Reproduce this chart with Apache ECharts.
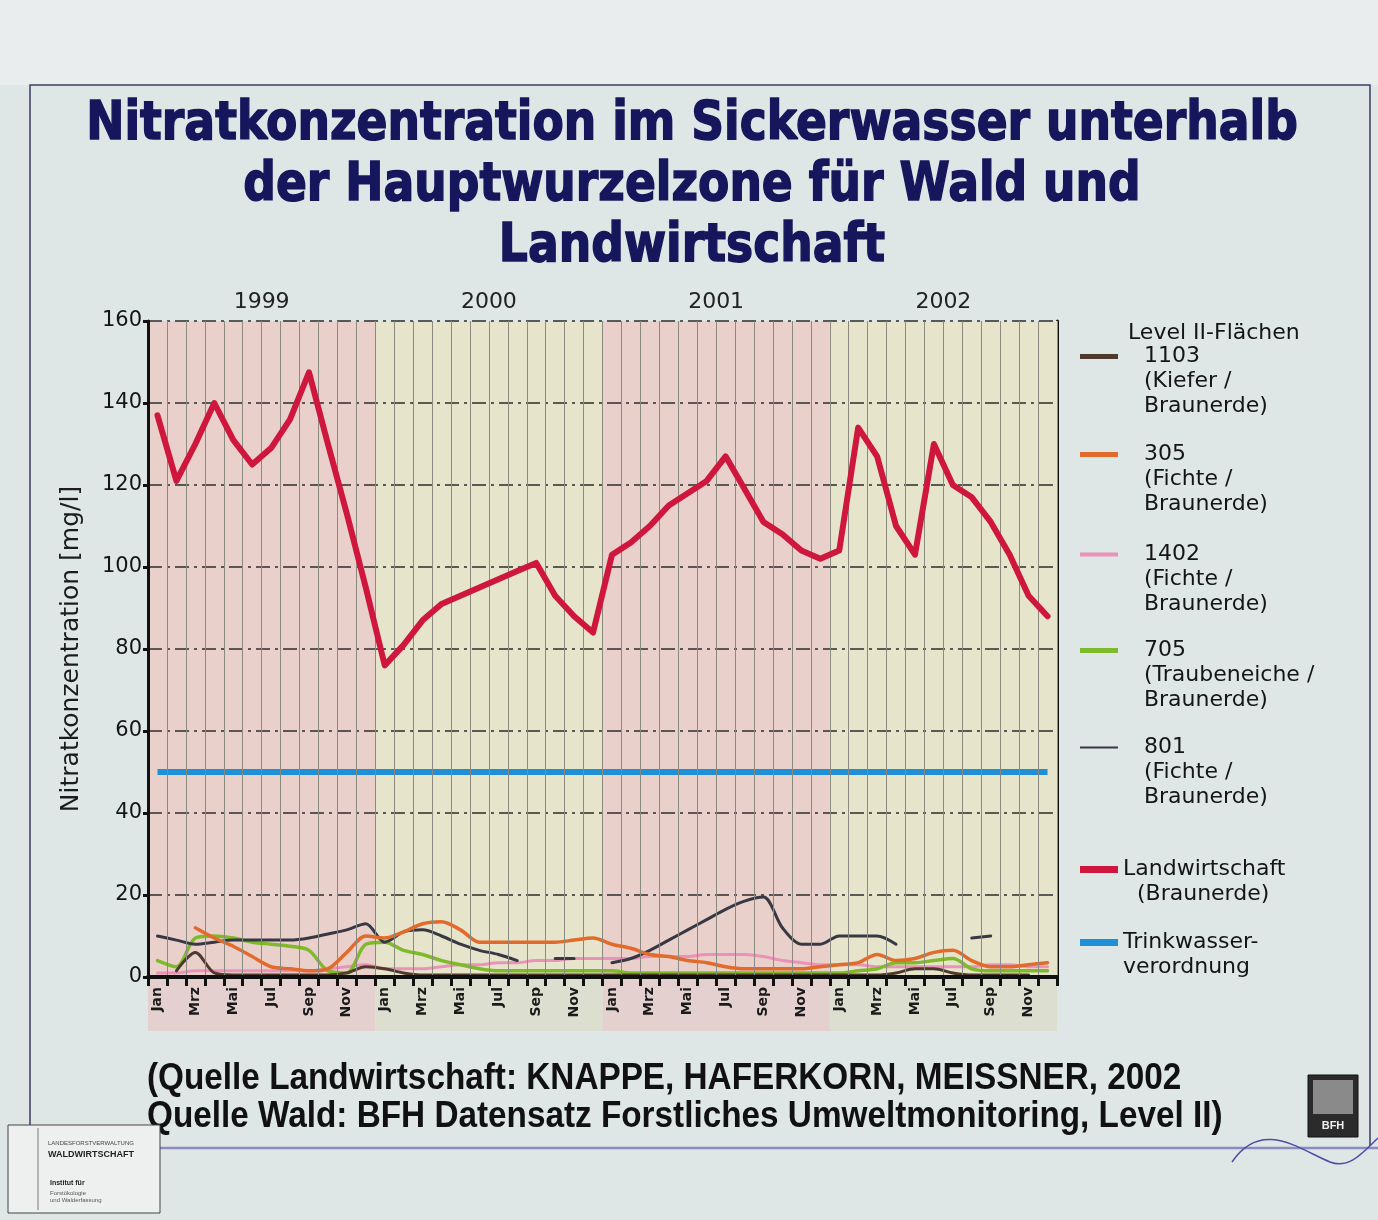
<!DOCTYPE html>
<html>
<head>
<meta charset="utf-8">
<title>Nitratkonzentration im Sickerwasser</title>
<script src="https://cdn.jsdelivr.net/npm/echarts@6/dist/echarts.min.js"></script>
<style>
  html, body { margin: 0; padding: 0; background: #dfe6e6; }
  #chart { width: 1378px; height: 1220px; }
</style>
</head>
<body>
<div id="chart"></div>
<script>
// -------------------- Daten --------------------

const years = ['1999', '2000', '2001', '2002']
const monthNames = ['Jan', 'Feb', 'Mrz', 'Apr', 'Mai', 'Jun', 'Jul', 'Aug', 'Sep', 'Okt', 'Nov', 'Dez']
const yTicks = [0, 20, 40, 60, 80, 100, 120, 140, 160]

// Landwirtschaft (Braunerde)
const landwirtschaft = [
  137, 121, 130, 140, 131, 125, 129, 136, 147.5, 130, 113, 95,
  76, 81, 87, 91, 93, 95, 97, 99, 101, 93, 88, 84,
  103, 106, 110, 115, 118, 121, 127, 119, 111, 108, 104, 102,
  104, 134, 127, 110, 103, 130, 120, 117, 111, 103, 93, 88
]

// Trinkwasserverordnung (Grenzwert)
const trinkwasser = [
  50, 50, 50, 50, 50, 50, 50, 50, 50, 50, 50, 50,
  50, 50, 50, 50, 50, 50, 50, 50, 50, 50, 50, 50,
  50, 50, 50, 50, 50, 50, 50, 50, 50, 50, 50, 50,
  50, 50, 50, 50, 50, 50, 50, 50, 50, 50, 50, 50
]

// Level II-Flächen
const flaeche1103 = [
  null, 1.5, 6, 1, 0.5, 0.5, 0.5, 0.5, 0.5, 0.5, 1, 2.5,
  2, 1, 0.5, 0.5, 0.5, 0.5, 0.5, 0.5, 0.5, 0.5, 0.5, 0.5,
  0.5, 0.5, 0.5, 0.5, 0.5, 0.5, 0.5, 0.5, 0.5, 0.5, 0.5, 0.5,
  0.5, 0.5, 0.5, 1, 2, 2, 1, 0.5, 0.5, 0.5, 0.5, null
]
const flaeche305 = [
  null, null, 12, 9.5, 7.5, 5, 2.5, 2, 1.5, 2, 6, 10,
  9.5, 11, 13, 13.5, 11.5, 8.5, 8.5, 8.5, 8.5, 8.5, 9, 9.5,
  8, 7, 5.5, 5, 4, 3.5, 2.5, 2, 2, 2, 2, 2.5,
  3, 3.5, 5.5, 4, 4.5, 6, 6.5, 4, 2.5, 2.5, 3, 3.5
]
const flaeche1402 = [
  1, 1, 1.5, 1.5, 1.5, 1.5, 1.5, 1.5, 1.5, 2, 2.5, 3,
  2, 2, 2, 2.5, 3, 3, 3.5, 3.5, 4, 4, 4.5, 4.5,
  4.5, 4.5, 5, 5, 5, 5.5, 5.5, 5.5, 5, 4, 3.5, 3,
  3, 3, 2.5, 2.5, 2.5, 2.5, 2.5, 2.5, 3, 3, 2.5, 2.5
]
const flaeche705 = [
  4, 2.5, 9.5, 10, 9.5, 8.5, 8, 7.5, 6.5, 1.5, 1, 8,
  8.5, 6.5, 5.5, 4, 3, 2, 1.5, 1.5, 1.5, 1.5, 1.5, 1.5,
  1.5, 1, 1, 1, 1, 1, 1, 1, 1, 1, 1, 1,
  1, 1.5, 2, 3.5, 3.5, 4, 4.5, 2, 1.5, 1.5, 1.5, 1.5
]
const flaeche801 = [
  10, 9, 8, 8.5, 9, 9, 9, 9, 9.5, 10.5, 11.5, 13,
  8.5, 11, 11.5, 10, 8, 6.5, 5.5, 4, null, 4.5, 4.5, null,
  3.5, 4.5, 6.5, 9, 11.5, 14, 16.5, 18.5, 19.5, 12, 8, 8,
  10, 10, 10, 8, null, null, null, 9.5, 10, null, null, null
]

// Kategorien: Monat + Jahr
const months = []
years.forEach(y => monthNames.forEach(m => months.push(m + ' ' + y)))

// -------------------- Stil --------------------

const C = {
  red: '#cf163d',
  blue: '#1f8fd6',
  c1103: '#4d3a2c',
  c305: '#e26b2c',
  c1402: '#eb92b8',
  c705: '#7fba2a',
  c801: '#383844',
  pink: '#e9d0cb',
  yellow: '#e7e4cc',
  pinkLow: '#e4d1cf',
  yellowLow: '#dcdfd0'
}

const FONT = 'DejaVu Sans'

// Jahresbänder (als Monatsindex 0..48)
function yearBands(colA, colB) {
  return years.map((y, i) => [
    { xAxis: i * 12, itemStyle: { color: i % 2 === 0 ? colA : colB } },
    { xAxis: (i + 1) * 12 }
  ])
}

function lowSeries(name, data, color, width) {
  return {
    name,
    type: 'line',
    xAxisIndex: 0,
    yAxisIndex: 0,
    data,
    color,
    symbol: 'none',
    smooth: 0.3,
    connectNulls: false,
    lineStyle: { color, width, cap: 'round', join: 'round' },
    z: 3
  }
}

// Legende: jede Position einzeln, erste Zeile mittig zum Farbbalken
function legendItem(name, top, h, indent) {
  return {
    data: [name],
    left: 1080,
    top,
    orient: 'vertical',
    padding: 0,
    icon: 'rect',
    itemWidth: 38,
    itemHeight: h,
    selectedMode: false,
    formatter: n => {
      const lines = n.split('\n')
      return '\n'.repeat(lines.length - 1) + lines.map((l, i) => (i === 0 ? indent[0] : indent[1]) + l).join('\n')
    },
    textStyle: { fontFamily: FONT, fontSize: 22, lineHeight: 25, color: '#151515' }
  }
}

const N1103 = '1103\n(Kiefer /\nBraunerde)'
const N305 = '305\n(Fichte /\nBraunerde)'
const N1402 = '1402\n(Fichte /\nBraunerde)'
const N705 = '705\n(Traubeneiche /\nBraunerde)'
const N801 = '801\n(Fichte /\nBraunerde)'
const NLW = 'Landwirtschaft\n(Braunerde)'
const NTW = 'Trinkwasser-\nverordnung'

const chart = echarts.init(document.getElementById('chart'))

const option = {
  backgroundColor: '#dfe6e6',
  animation: false,
  grid: [
    { left: 148, top: 321, width: 909, height: 656 },
    { left: 148, top: 979, width: 909, height: 52 }
  ],
  xAxis: [
    {
      type: 'category',
      gridIndex: 0,
      position: 'bottom',
      data: months,
      boundaryGap: true,
      axisLine: { lineStyle: { color: '#111', width: 4 } },
      axisTick: { show: true, interval: 0, length: 9, lineStyle: { color: '#111', width: 3 } },
      axisLabel: {
        interval: 1,
        rotate: 90,
        margin: 10,
        fontFamily: FONT,
        fontSize: 14,
        fontWeight: 'bold',
        color: '#1a1a1a',
        formatter: v => v.split(' ')[0]
      },
      splitLine: { show: true, interval: 0, lineStyle: { color: '#8a8a80', width: 1 } },
      z: 5
    },
    {
      type: 'category',
      gridIndex: 0,
      position: 'top',
      data: years,
      boundaryGap: true,
      axisLine: { lineStyle: { color: '#111', width: 3 } },
      axisTick: { show: false },
      axisLabel: { fontFamily: FONT, fontSize: 22, color: '#222', margin: 8 },
      splitLine: { show: false }
    },
    { type: 'value', gridIndex: 0, min: 0, max: 48, show: false },
    { type: 'value', gridIndex: 1, min: 0, max: 48, show: false }
  ],
  yAxis: [
    {
      type: 'value',
      gridIndex: 0,
      min: yTicks[0],
      max: yTicks[yTicks.length - 1],
      interval: 20,
      name: 'Nitratkonzentration [mg/l]',
      nameLocation: 'middle',
      nameRotate: 90,
      nameGap: 64,
      nameTextStyle: { fontFamily: FONT, fontSize: 25, color: '#1c1c1c' },
      axisLine: { show: true, lineStyle: { color: '#111', width: 3 } },
      axisTick: { show: true, length: 5, lineStyle: { color: '#111', width: 3 } },
      axisLabel: { fontFamily: FONT, fontSize: 21, color: '#151515', margin: 6 },
      splitLine: { show: true, lineStyle: { color: '#2c2c2c', width: 1.5, type: [14, 5, 3, 5] } },
      z: 5
    },
    {
      type: 'value',
      gridIndex: 0,
      position: 'right',
      min: 0,
      max: 160,
      axisLine: { show: true, lineStyle: { color: '#111', width: 3 } },
      axisTick: { show: false },
      axisLabel: { show: false },
      splitLine: { show: false }
    },
    { type: 'value', gridIndex: 1, min: 0, max: 1, show: false }
  ],
  legend: [
    legendItem(N1103, 294, 5, ['   ', '   ']),
    legendItem(N305, 392, 5, ['   ', '   ']),
    legendItem(N1402, 492, 4, ['   ', '   ']),
    legendItem(N705, 588, 5, ['   ', '   ']),
    legendItem(N801, 685, 2, ['   ', '   ']),
    legendItem(NLW, 832, 7, ['', '  ']),
    legendItem(NTW, 905, 7, ['', ''])
  ],
  graphic: [
    // obere hellere Fläche und Rahmen
    { type: 'rect', shape: { x: 0, y: 0, width: 1378, height: 85 }, style: { fill: '#e9eded' }, z: -10 },
    { type: 'polyline', shape: { points: [[30, 1128], [30, 85], [1370, 85], [1370, 1146]] }, style: { stroke: '#3c3c62', lineWidth: 1.5, fill: null } },
    { type: 'line', shape: { x1: 160, y1: 1148, x2: 1378, y2: 1148 }, style: { stroke: '#8c8cc0', lineWidth: 2.5 } },
    // Titel
    {
      type: 'group',
      children: [
        'Nitratkonzentration im Sickerwasser unterhalb',
        'der Hauptwurzelzone für Wald und',
        'Landwirtschaft'
      ].map((t, i) => ({
        type: 'text',
        x: 692,
        y: 125 + i * 61,
        scaleX: 0.845,
        style: {
          text: t,
          align: 'center',
          verticalAlign: 'middle',
          font: 'bold 54px "DejaVu Sans"',
          fill: '#16165c',
          stroke: '#16165c',
          lineWidth: 1.6
        }
      }))
    },
    // Legendentitel
    {
      type: 'text',
      x: 1128,
      y: 333,
      style: { text: 'Level II-Flächen', verticalAlign: 'middle', font: '22px "DejaVu Sans"', fill: '#151515' }
    },
    // Quellenangabe
    {
      type: 'group',
      children: [
        '(Quelle Landwirtschaft: KNAPPE, HAFERKORN, MEISSNER, 2002',
        'Quelle Wald: BFH Datensatz Forstliches Umweltmonitoring, Level II)'
      ].map((t, i) => ({
        type: 'text',
        x: 147,
        y: 1079 + i * 38,
        scaleX: 0.9,
        style: { text: t, verticalAlign: 'middle', font: 'bold 37px "Liberation Sans"', fill: '#111' }
      }))
    },
    // Logo links
    { type: 'rect', shape: { x: 8, y: 1125, width: 152, height: 88 }, style: { fill: '#eef0ef', stroke: '#444', lineWidth: 1 } },
    { type: 'line', shape: { x1: 38, y1: 1128, x2: 38, y2: 1210 }, style: { stroke: '#777', lineWidth: 1 } },
    { type: 'text', x: 48, y: 1140, style: { text: 'LANDESFORSTVERWALTUNG', font: '6px "Liberation Sans"', fill: '#444' } },
    { type: 'text', x: 48, y: 1150, style: { text: 'WALDWIRTSCHAFT', font: 'bold 9px "Liberation Sans"', fill: '#222' } },
    { type: 'text', x: 50, y: 1180, style: { text: 'Institut für', font: 'bold 7px "Liberation Sans"', fill: '#222' } },
    { type: 'text', x: 50, y: 1190, style: { text: 'Forstökologie\nund Walderfassung', font: '6px "Liberation Sans"', fill: '#555', lineHeight: 7 } },
    // Logo rechts
    { type: 'rect', shape: { x: 1308, y: 1075, width: 50, height: 62 }, style: { fill: '#2b2b2b', stroke: '#111' } },
    { type: 'rect', shape: { x: 1313, y: 1080, width: 40, height: 34 }, style: { fill: '#8a8a8a' } },
    { type: 'text', x: 1333, y: 1126, style: { text: 'BFH', align: 'center', verticalAlign: 'middle', font: 'bold 11px "Liberation Sans"', fill: '#eee' } },
    // Welle rechts unten
    {
      type: 'bezierCurve',
      shape: { x1: 1232, y1: 1162, cpx1: 1262, cpy1: 1118, cpx2: 1300, cpy2: 1150, x2: 1330, y2: 1162 },
      style: { stroke: '#4d4da8', lineWidth: 1.5, fill: null }
    },
    {
      type: 'bezierCurve',
      shape: { x1: 1330, y1: 1162, cpx1: 1350, cpy1: 1170, cpx2: 1365, cpy2: 1150, x2: 1378, y2: 1138 },
      style: { stroke: '#4d4da8', lineWidth: 1.5, fill: null }
    }
  ],
  series: [
    // Jahresschattierung im Diagramm
    {
      type: 'line',
      xAxisIndex: 2,
      yAxisIndex: 0,
      data: [],
      silent: true,
      z: -1,
      markArea: { silent: true, data: yearBands(C.pink, C.yellow) }
    },
    // Schattierung unter der Achse
    {
      type: 'line',
      xAxisIndex: 3,
      yAxisIndex: 2,
      data: [],
      silent: true,
      z: -1,
      markArea: { silent: true, data: yearBands(C.pinkLow, C.yellowLow) }
    },
    lowSeries(N1402, flaeche1402, C.c1402, 3),
    lowSeries(N705, flaeche705, C.c705, 3.5),
    lowSeries(N1103, flaeche1103, C.c1103, 3),
    lowSeries(N801, flaeche801, C.c801, 3),
    lowSeries(N305, flaeche305, C.c305, 3.5),
    {
      name: NTW,
      type: 'line',
      data: trinkwasser,
      color: C.blue,
      symbol: 'none',
      lineStyle: { color: C.blue, width: 6 },
      z: 4
    },
    {
      name: NLW,
      type: 'line',
      data: landwirtschaft,
      color: C.red,
      symbol: 'none',
      lineStyle: { color: C.red, width: 6, join: 'round', cap: 'round' },
      z: 5
    }
  ]
}

chart.setOption(option)
</script>
</body>
</html>
